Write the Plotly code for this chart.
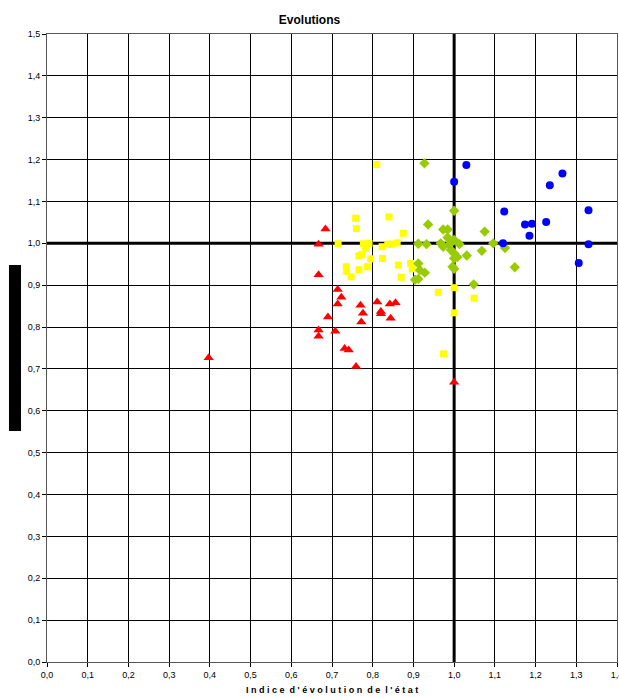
import plotly.graph_objects as go

# Red triangles
red_x = [0.684, 0.667, 0.667, 0.714, 0.723, 0.714, 0.770, 0.811, 0.842, 0.856, 0.820, 0.820,
         0.776, 0.772, 0.844, 0.690, 0.667, 0.667, 0.708, 0.731, 0.741, 0.759, 1.000, 0.397]
red_y = [1.034, 0.998, 0.925, 0.890, 0.871, 0.855, 0.852, 0.860, 0.855, 0.858, 0.837, 0.832,
         0.833, 0.812, 0.821, 0.824, 0.793, 0.778, 0.790, 0.749, 0.745, 0.706, 0.668, 0.727]

# Yellow squares
yellow_x = [0.810, 0.758, 0.760, 0.840, 0.875, 0.715, 0.777, 0.791, 0.782, 0.823, 0.837, 0.848,
            0.860, 0.773, 0.766, 0.795, 0.824, 0.735, 0.736, 0.747, 0.766, 0.787, 0.863, 0.870,
            0.893, 0.897, 0.961, 1.000, 1.000, 1.049, 0.974]
yellow_y = [1.188, 1.060, 1.035, 1.063, 1.024, 0.999, 0.999, 1.000, 0.988, 0.992, 0.998, 0.998,
            1.001, 0.973, 0.970, 0.963, 0.964, 0.944, 0.933, 0.920, 0.937, 0.944, 0.948, 0.919,
            0.952, 0.939, 0.883, 0.894, 0.834, 0.869, 0.736]

# Green diamonds
green_x = [0.927, 1.000, 0.936, 0.973, 0.984, 0.984, 0.912, 0.932, 0.967, 0.973, 0.988, 1.000,
           1.013, 0.992, 1.000, 1.008, 1.068, 1.031, 1.000, 0.996, 1.000, 0.912, 0.916, 0.928,
           0.904, 0.912, 1.048, 1.075, 1.096, 1.125, 1.149]
green_y = [1.191, 1.078, 1.045, 1.033, 1.033, 1.014, 0.999, 0.998, 1.000, 0.992, 0.997, 1.008,
           0.998, 0.984, 0.976, 0.967, 0.982, 0.971, 0.964, 0.944, 0.939, 0.952, 0.936, 0.930,
           0.913, 0.915, 0.902, 1.028, 1.000, 0.989, 0.943]

# Blue circles
blue_x = [1.030, 1.000, 1.266, 1.235, 1.123, 1.330, 1.174, 1.191, 1.226, 1.185, 1.120, 1.330, 1.306]
blue_y = [1.187, 1.147, 1.167, 1.139, 1.076, 1.079, 1.045, 1.047, 1.051, 1.018, 1.000, 0.998, 0.953]

x_ticks = [round(i * 0.1, 1) for i in range(15)]
y_ticks = [round(i * 0.1, 1) for i in range(16)]

fig = go.Figure()
fig.add_trace(go.Scatter(x=red_x, y=red_y, mode="markers",
                         marker=dict(symbol="triangle-up", size=9, color="#FF0000")))
fig.add_trace(go.Scatter(x=yellow_x, y=yellow_y, mode="markers",
                         marker=dict(symbol="square", size=7, color="#FFFF00")))
fig.add_trace(go.Scatter(x=green_x, y=green_y, mode="markers",
                         marker=dict(symbol="diamond", size=8, color="#99CC00")))
fig.add_trace(go.Scatter(x=blue_x, y=blue_y, mode="markers",
                         marker=dict(symbol="circle", size=8, color="#0000FF")))

axis_common = dict(showgrid=True, gridcolor="#000000", gridwidth=1, zeroline=False,
                   showline=True, linecolor="#555555", linewidth=1, mirror=True,
                   ticks="outside", ticklen=4, tickcolor="#000000", automargin=False,
                   ticklabeloverflow="allow",
                   tickfont=dict(family="Liberation Sans, Arial", size=9, color="#000000"),
                   tickformat=".1f")

fig.update_xaxes(range=[0, 1.4], tickvals=x_ticks, **axis_common)
fig.update_yaxes(range=[0, 1.5], tickvals=y_ticks, **axis_common)

fig.add_shape(type="line", xref="x", yref="y", x0=1, x1=1, y0=0, y1=1.5,
              line=dict(color="#000000", width=3), layer="below")
fig.add_shape(type="line", xref="x", yref="y", x0=0, x1=1.4, y0=1, y1=1,
              line=dict(color="#000000", width=3), layer="below")
fig.add_shape(type="rect", xref="paper", yref="paper", x0=-0.0667, x1=-0.0456,
              y0=0.368, y1=0.632, fillcolor="#000000", line=dict(width=0))

fig.add_annotation(text="<b>I n d i c e  d ' é v o l u t i o n  d e  l ' é t a t</b>",
                   xref="paper", yref="paper", x=0.5, y=0, yshift=-28,
                   xanchor="center", yanchor="middle", showarrow=False,
                   font=dict(family="Liberation Sans, Arial", size=9, color="#000000"))

fig.update_layout(
    width=619, height=698,
    margin=dict(l=47, r=2, t=34, b=36),
    paper_bgcolor="white", plot_bgcolor="white",
    showlegend=False,
    separators=", ",
    title=dict(text="<b>Evolutions</b>", x=0.5, xanchor="center", y=0.972, yanchor="middle",
               font=dict(family="Liberation Sans, Arial", size=12, color="#000000")),
)

fig.write_html("out.html", config={"displayModeBar": False},
               post_script="document.body.style.margin='0';")
